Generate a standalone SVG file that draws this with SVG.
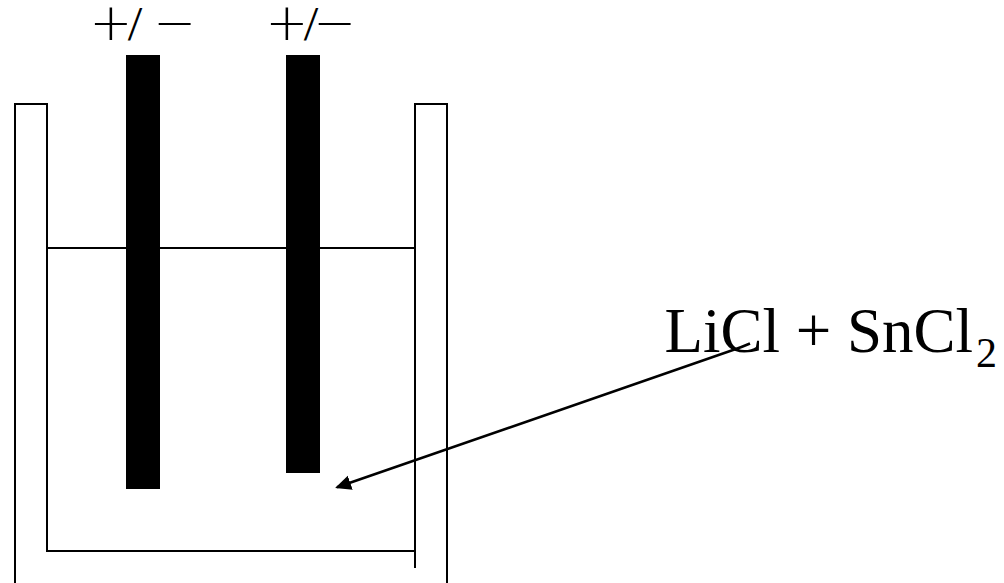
<svg xmlns="http://www.w3.org/2000/svg" width="1004" height="583" viewBox="0 0 1004 583">
<style>
.l{fill:none;stroke:#000;stroke-width:2}
.c{fill:none;stroke:#000;stroke-width:2.6}
.e{fill:#000}
.s{font-family:"DejaVu Sans",sans-serif;font-weight:200;font-size:51px;fill:#000}
.d{font-family:"DejaVu Sans",sans-serif;font-weight:200;font-size:39px;fill:#000}
.t{font-family:"Liberation Serif",serif;font-size:63px;fill:#000}
.u{font-family:"Liberation Serif",serif;font-size:42px;fill:#000}
</style>
<defs><marker id="a" markerUnits="userSpaceOnUse" markerWidth="18" markerHeight="16" refX="14" refY="7.5" orient="auto"><path d="M0 0L16 7.5L0 15Z" fill="#000"/></marker></defs>
<rect width="1004" height="583" fill="#fff"/>
<g id="vessel"><path class="l" d="M15 583V104H47V551H415V104H447V583"/><path class="l" d="M415 551V568"/></g>
<g id="liquid"><path class="l" d="M47 248H415"/></g>
<g id="electrode-1"><rect class="e" x="126" y="55" width="34" height="434"/><text class="s" x="89.6" y="40">+</text><text class="d" transform="translate(127 36.5) scale(1.22 1)">/</text><text class="s" x="153.6" y="40">−</text></g>
<g id="electrode-2"><rect class="e" x="286" y="55" width="34" height="418"/><text class="s" x="265.6" y="40">+</text><text class="d" transform="translate(303 36.5) scale(1.22 1)">/</text><text class="s" x="313.6" y="40">−</text></g>
<g id="label"><text class="t" x="664.5" y="352">LiCl + SnCl</text><text class="u" x="976" y="367">2</text></g>
<g id="connectors"><path class="c" d="M750 343.5Q742 347 733 350L337 487.3" marker-end="url(#a)"/></g>
</svg>
